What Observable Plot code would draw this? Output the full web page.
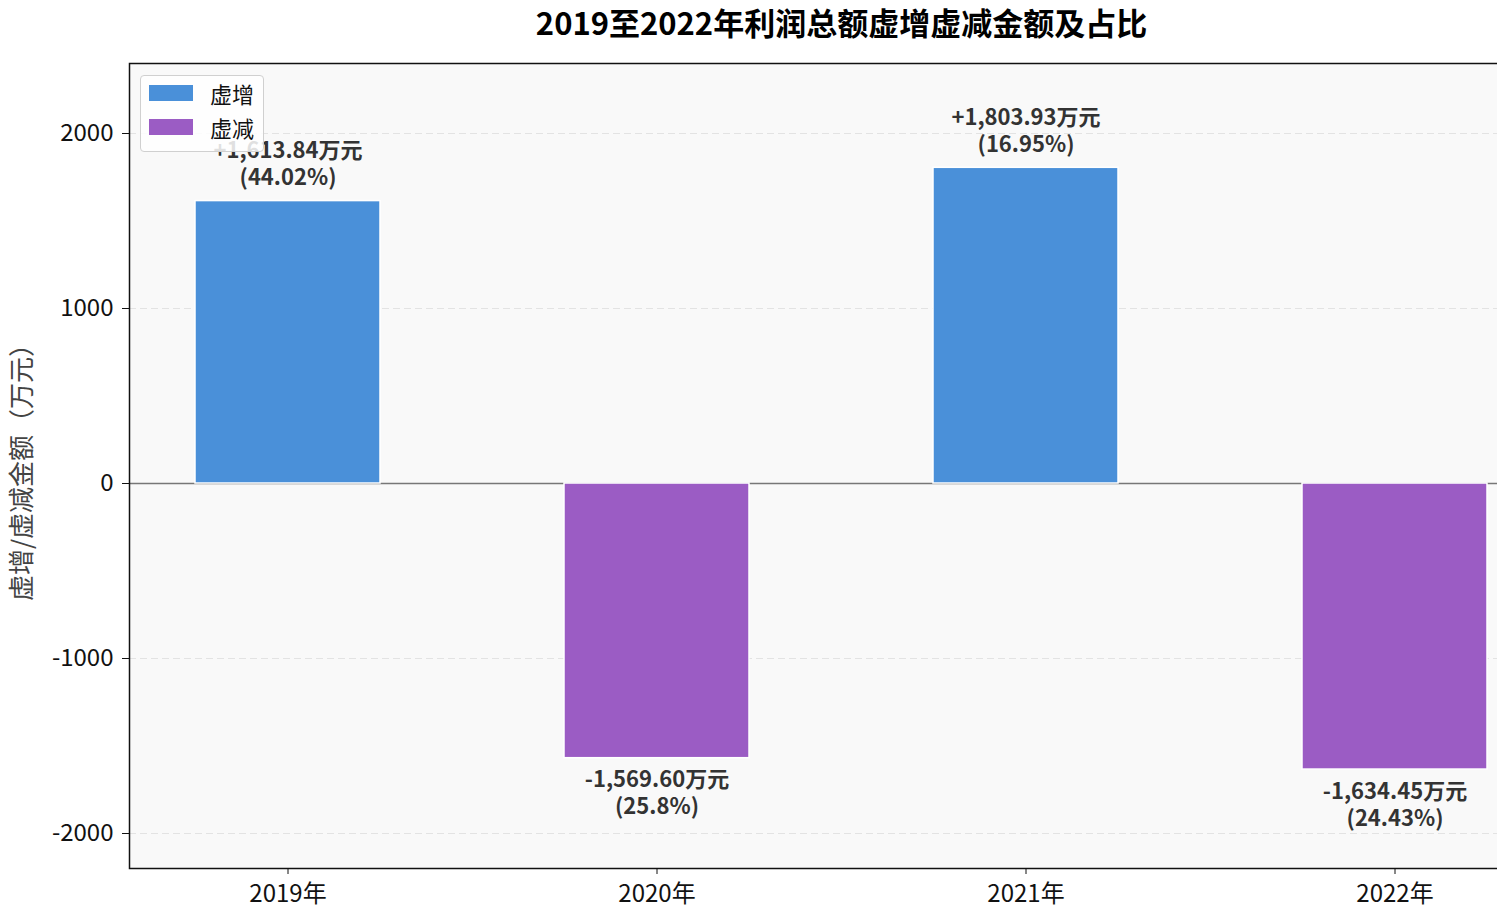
<!DOCTYPE html>
<html>
<head>
<meta charset="utf-8">
<script src="https://cdn.jsdelivr.net/npm/d3@7"></script>
<script src="https://cdn.jsdelivr.net/npm/@observablehq/plot@0.6"></script>
<style>
  html, body { margin: 0; padding: 0; background: #fff; overflow: hidden; }
  #wrap { position: relative; width: 1497px; height: 914px; overflow: hidden; font-family: "Noto Sans CJK SC", "Noto Sans", sans-serif; }
  #chart svg { max-width: none !important; display: block; }
  #legend { position: absolute; left: 140px; top: 75px; width: 124px; height: 77px; background: rgba(255,255,255,0.85); border: 1.5px solid #d0d0d0; border-radius: 4px; box-sizing: border-box; }
  .item { position: absolute; left: 8px; display: flex; align-items: center; font-size: 22px; color: #111; line-height: 1; }
  .sw { width: 44px; height: 16px; margin-right: 17px; }
</style>
</head>
<body>
<div id="wrap">
  <div id="chart"></div>
  <div id="legend"></div>
</div>
<script>
const years = ["2019", "2020", "2021", "2022"];
const amounts = [1613.84, -1569.60, 1803.93, -1634.45];
const percents = ["44.02%", "25.8%", "16.95%", "24.43%"];
const seriesNames = ["虚增", "虚减"];
const seriesColors = ["#4a90d9", "#9b5cc4"];
const yTicks = [-2000, -1000, 0, 1000, 2000];
const title = "2019至2022年利润总额虚增虚减金额及占比";
const yLabel = "虚增/虚减金额（万元）";

const fmt = d3.format(",.2f");
const data = years.map((y, i) => ({
  year: y,
  value: amounts[i],
  type: amounts[i] >= 0 ? seriesNames[0] : seriesNames[1],
  label: (amounts[i] >= 0 ? "+" : "-") + fmt(Math.abs(amounts[i])) + "万元\n(" + percents[i] + ")"
}));
const pos = data.filter(d => d.value >= 0);
const neg = data.filter(d => d.value < 0);

const font = "'Noto Sans CJK SC', 'Noto Sans', sans-serif";

const chart = Plot.plot({
  width: 1560,
  height: 914,
  marginLeft: 129,
  marginRight: 7,
  marginTop: 63,
  marginBottom: 46,
  style: { fontFamily: font, fontSize: "22px", color: "#111", background: "#fff", overflow: "visible", maxWidth: "none" },
  x: { type: "band", domain: years, paddingInner: 0.5, paddingOuter: 0.176, label: null },
  y: { domain: [-2200, 2400], label: null },
  color: { domain: seriesNames, range: seriesColors },
  marks: [
    Plot.frame({ fill: "#f9f9f9", stroke: null }),
    Plot.gridY(yTicks.filter(t => t !== 0), { stroke: "#e3e3e3", strokeOpacity: 1, strokeDasharray: "7,4", strokeWidth: 1 }),
    Plot.ruleY([0], { stroke: "#777", strokeWidth: 1.3 }),
    Plot.barY(data, { x: "year", y: "value", fill: "type", stroke: "#fff", strokeWidth: 1.5 }),
    Plot.text(pos, { x: "year", y: "value", text: "label", lineAnchor: "bottom", dy: -16, lineHeight: 1.23, fontSize: 22, fontWeight: "bold", fill: "#333" }),
    Plot.text(neg, { x: "year", y: "value", text: "label", lineAnchor: "top", dy: 10, lineHeight: 1.23, fontSize: 22, fontWeight: "bold", fill: "#333" }),
    Plot.frame({ stroke: "#111", strokeWidth: 1.5 }),
    Plot.axisY({ ticks: yTicks, tickSize: 7, tickPadding: 9, fontSize: 24, stroke: "#111", label: null, tickFormat: d => String(d) }),
    Plot.axisX({ tickSize: 6, tickPadding: 10, fontSize: 24, label: null, tickFormat: d => d + "年" }),
    Plot.text([title], { frameAnchor: "top", dy: -51, fontSize: 31, fontWeight: "bold", fill: "#000" }),
    Plot.text([yLabel], { frameAnchor: "left", textAnchor: "middle", dx: -107, rotate: -90, fontSize: 26, fill: "#444" })
  ]
});
document.getElementById("chart").appendChild(chart);

const legend = document.getElementById("legend");
seriesNames.forEach((name, i) => {
  const it = document.createElement("div");
  it.className = "item";
  it.style.top = (i === 0 ? 6 : 40) + "px";
  it.innerHTML = `<span class="sw" style="background:${seriesColors[i]}"></span><span>${name}</span>`;
  legend.appendChild(it);
});
</script>
</body>
</html>
